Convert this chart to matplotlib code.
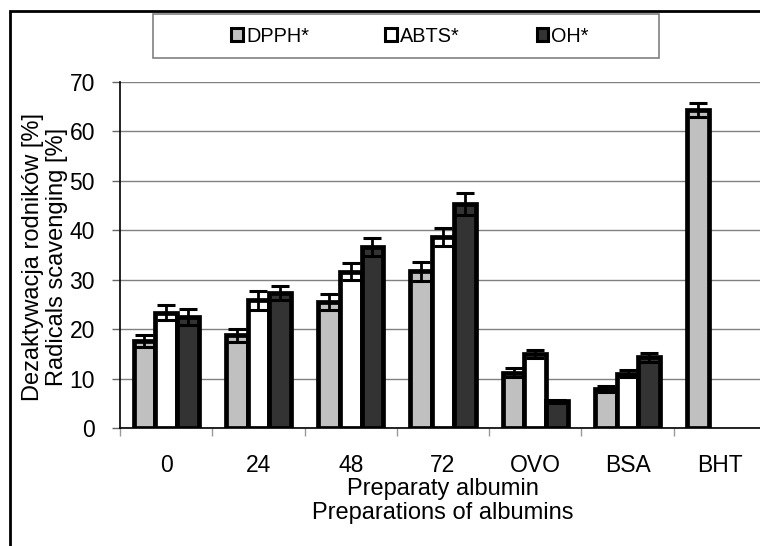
import numpy as np
import matplotlib
matplotlib.use("Agg")
import matplotlib.pyplot as plt
from matplotlib.patches import Rectangle, Patch

plt.rcParams["font.family"] = ["Liberation Sans", "DejaVu Sans"]

# dane
categories = ["0", "24", "48", "72", "OVO", "BSA", "BHT"]
series_names = ["DPPH*", "ABTS*", "OH*"]
dpph = [17.6, 18.8, 25.5, 31.7, 11.2, 7.9, 64.3]
dpph_err = [1.2, 1.3, 1.6, 1.9, 0.9, 0.6, 1.4]
abts = [23.3, 25.8, 31.6, 38.6, 15.0, 11.0, np.nan]
abts_err = [1.5, 2.0, 1.7, 1.8, 0.8, 0.7, np.nan]
oh = [22.5, 27.3, 36.6, 45.3, 5.4, 14.3, np.nan]
oh_err = [1.6, 1.4, 1.9, 2.2, 0.3, 0.9, np.nan]

colors = ["#c0c0c0", "#ffffff", "#333333"]

fig = plt.figure(figsize=(7.6, 5.46), dpi=100)
ax = fig.add_axes([120 / 760, 118 / 546, 646 / 760, 346 / 546])

x = np.arange(len(categories))
w = 0.235
for i, (vals, errs) in enumerate([(dpph, dpph_err), (abts, abts_err), (oh, oh_err)]):
    vals = np.array(vals, dtype=float)
    errs = np.array(errs, dtype=float)
    ok = ~np.isnan(vals)
    xs = x[ok] + (i - 1) * w
    ax.bar(xs, vals[ok], width=w, color=colors[i], edgecolor="black",
           linewidth=3.4, zorder=3)
    ax.errorbar(xs, vals[ok], yerr=errs[ok], fmt="none", ecolor="black",
                elinewidth=2, capsize=6.5, capthick=2.2, zorder=4)

ax.set_xlim(-0.5, len(categories) - 0.5)
ax.set_ylim(0, 70)
ax.set_yticks(np.arange(0, 71, 10))
ax.yaxis.grid(True, color="#808080", linewidth=1.0, zorder=0)
ax.set_axisbelow(True)

ax.set_xticks(x)
ax.set_xticklabels(categories)
ax.set_xticks(np.arange(len(categories) + 1) - 0.5, minor=True)
ax.tick_params(axis="x", which="major", length=0, pad=19, labelsize=16.5)
ax.tick_params(axis="x", which="minor", length=6, color="#999999", width=1)
ax.tick_params(axis="y", length=6, color="#666666", width=1, pad=12, labelsize=16.5)

for s in ["top", "right"]:
    ax.spines[s].set_visible(False)
ax.spines["left"].set_linewidth(1.2)
ax.spines["bottom"].set_linewidth(1.2)

fig.text(45 / 760, 1 - 257 / 546, "Dezaktywacja rodników [%]\nRadicals scavenging [%]",
         rotation=90, ha="center", va="center", fontsize=17, linespacing=1.1,
         multialignment="center")
fig.text(443 / 760, 1 - 501 / 546, "Preparaty albumin\nPreparations of albumins",
         ha="center", va="center", fontsize=17, linespacing=1.1,
         multialignment="center")

# ramka legendy
fig.patches.append(Rectangle((153 / 760, 1 - 58 / 546), 506 / 760, 44 / 546,
                             transform=fig.transFigure, facecolor="white",
                             edgecolor="#808080", linewidth=1.2))
handles = [Patch(facecolor=c, edgecolor="black", linewidth=2.2) for c in colors]
fig.legend(handles, series_names, loc="center", bbox_to_anchor=(410 / 760, 1 - 36 / 546),
           ncol=3, frameon=False, fontsize=14.3, handlelength=0.6, handleheight=0.6,
           handletextpad=0.15, columnspacing=3.85)

# ramka całej figury
fig.patches.append(Rectangle((10 / 760, -0.1), 1.2, 1.1 - 11 / 546,
                             transform=fig.transFigure, fill=False,
                             edgecolor="black", linewidth=2))

fig.savefig("out.png", dpi=100)
